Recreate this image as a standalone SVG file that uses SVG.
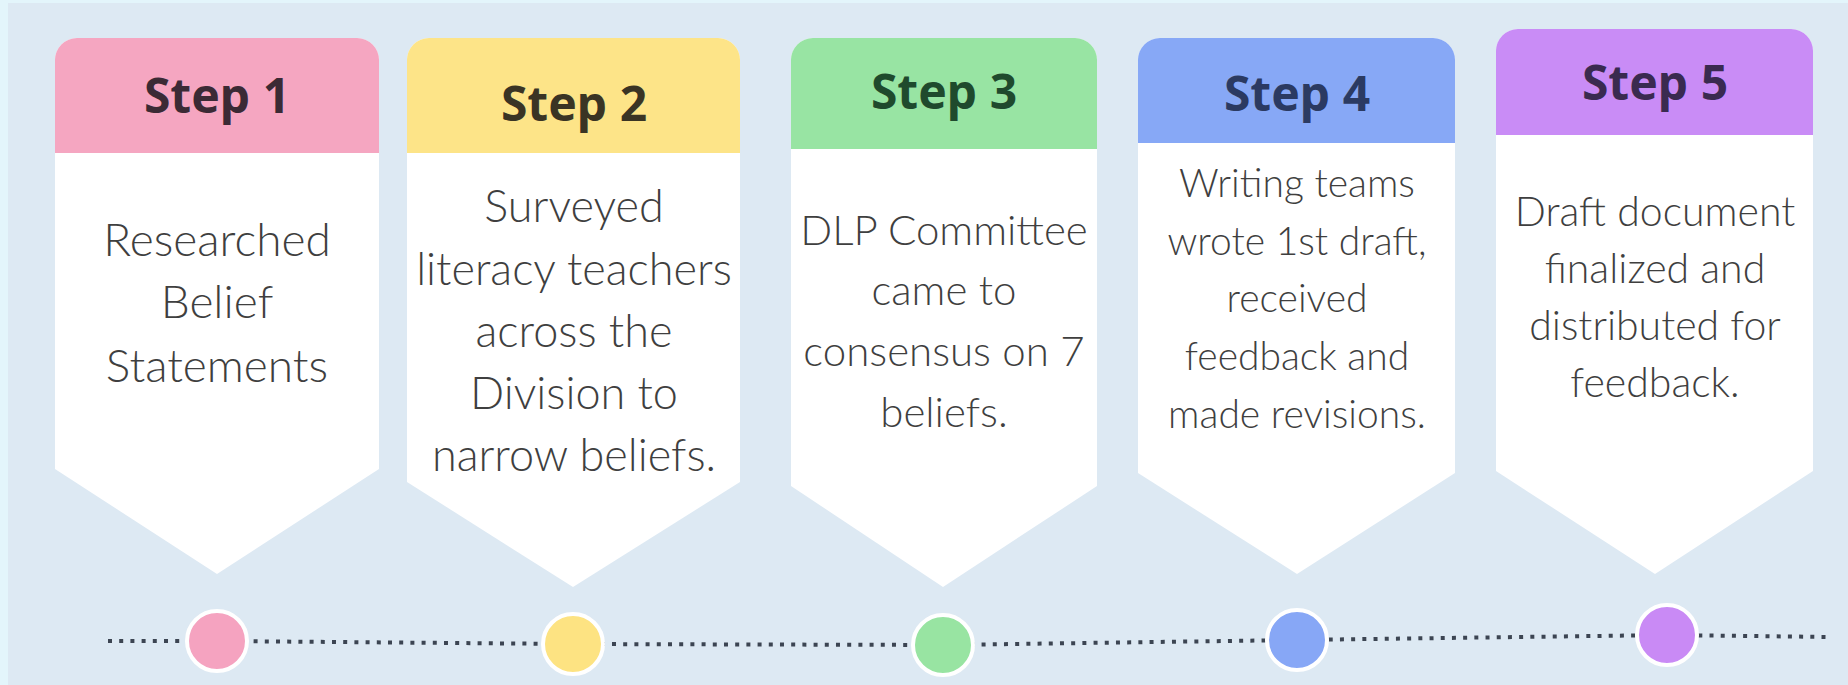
<svg xmlns="http://www.w3.org/2000/svg" width="1848" height="685" viewBox="0 0 1848 685">
<style>
.card{fill:#ffffff}
.hd{font-family:"Noto Sans","Liberation Sans",sans-serif;font-weight:700;font-size:48px;text-anchor:middle}
.bd{font-family:Lato,"Liberation Sans",sans-serif;font-weight:300;fill:#3f3f3f;text-anchor:middle}
.dot{stroke:#ffffff;stroke-width:4}
.conn{fill:none;stroke:#3c4552;stroke-width:4;stroke-dasharray:4 7.2}
</style>
<rect x="0" y="0" width="1848" height="685" fill="#e3f5fb"/>
<rect x="8" y="3" width="1840" height="682" fill="#dde9f3"/>

<g id="connectors">
<polyline class="conn" points="108,641 217,641 573,644 943,645 1297,640 1667,635 1830,637"/>
</g>

<g id="step1">
<path class="card" d="M55,60 A22,22 0 0 1 77,38 H357 A22,22 0 0 1 379,60 V469 L217,574 L55,469 Z"/>
<path fill="#f5a6c1" d="M55,60 A22,22 0 0 1 77,38 H357 A22,22 0 0 1 379,60 V153 H55 Z"/>
<text class="hd" x="217" y="113" fill="#3b2a35">Step 1</text>
<text class="bd" font-size="46"><tspan x="217" y="256">Researched</tspan><tspan x="217" y="318">Belief</tspan><tspan x="217" y="382">Statements</tspan></text>
<circle class="dot" cx="217" cy="641" r="30" fill="#f5a3c0"/>
</g>

<g id="step2">
<path class="card" d="M407,60 A22,22 0 0 1 429,38 H718 A22,22 0 0 1 740,60 V482 L573,587 L407,482 Z"/>
<path fill="#fde488" d="M407,60 A22,22 0 0 1 429,38 H718 A22,22 0 0 1 740,60 V153 H407 Z"/>
<text class="hd" x="574" y="121" fill="#3a3424">Step 2</text>
<text class="bd" font-size="45"><tspan x="574" y="222">Surveyed</tspan><tspan x="574" y="285">literacy teachers</tspan><tspan x="574" y="347">across the</tspan><tspan x="574" y="409">Division to</tspan><tspan x="574" y="471">narrow beliefs.</tspan></text>
<circle class="dot" cx="573" cy="644" r="30" fill="#fde382"/>
</g>

<g id="step3">
<path class="card" d="M791,60 A22,22 0 0 1 813,38 H1075 A22,22 0 0 1 1097,60 V486 L943,587 L791,486 Z"/>
<path fill="#98e4a3" d="M791,60 A22,22 0 0 1 813,38 H1075 A22,22 0 0 1 1097,60 V149 H791 Z"/>
<text class="hd" x="944" y="109" fill="#1f4a2d">Step 3</text>
<text class="bd" font-size="42"><tspan x="944" y="245">DLP Committee</tspan><tspan x="944" y="305">came to</tspan><tspan x="944" y="366">consensus on 7</tspan><tspan x="944" y="427">beliefs.</tspan></text>
<circle class="dot" cx="943" cy="645" r="30" fill="#98e4a2"/>
</g>

<g id="step4">
<path class="card" d="M1138,60 A22,22 0 0 1 1160,38 H1433 A22,22 0 0 1 1455,60 V473 L1297,574 L1138,473 Z"/>
<path fill="#87a8f6" d="M1138,60 A22,22 0 0 1 1160,38 H1433 A22,22 0 0 1 1455,60 V143 H1138 Z"/>
<text class="hd" x="1297" y="111" fill="#2b3a62">Step 4</text>
<text class="bd" font-size="39"><tspan x="1297" y="197">Writing teams</tspan><tspan x="1297" y="255">wrote 1st draft,</tspan><tspan x="1297" y="312">received</tspan><tspan x="1297" y="370">feedback and</tspan><tspan x="1297" y="428">made revisions.</tspan></text>
<circle class="dot" cx="1297" cy="640" r="30" fill="#87a7f6"/>
</g>

<g id="step5">
<path class="card" d="M1496,51 A22,22 0 0 1 1518,29 H1791 A22,22 0 0 1 1813,51 V471 L1655,574 L1496,471 Z"/>
<path fill="#c98cf6" d="M1496,51 A22,22 0 0 1 1518,29 H1791 A22,22 0 0 1 1813,51 V135 H1496 Z"/>
<text class="hd" x="1655" y="100" fill="#3a2a50">Step 5</text>
<text class="bd" font-size="41"><tspan x="1655" y="226">Draft document</tspan><tspan x="1655" y="283">finalized and</tspan><tspan x="1655" y="340">distributed for</tspan><tspan x="1655" y="397">feedback.</tspan></text>
<circle class="dot" cx="1667" cy="635" r="30" fill="#c98af5"/>
</g>
</svg>
